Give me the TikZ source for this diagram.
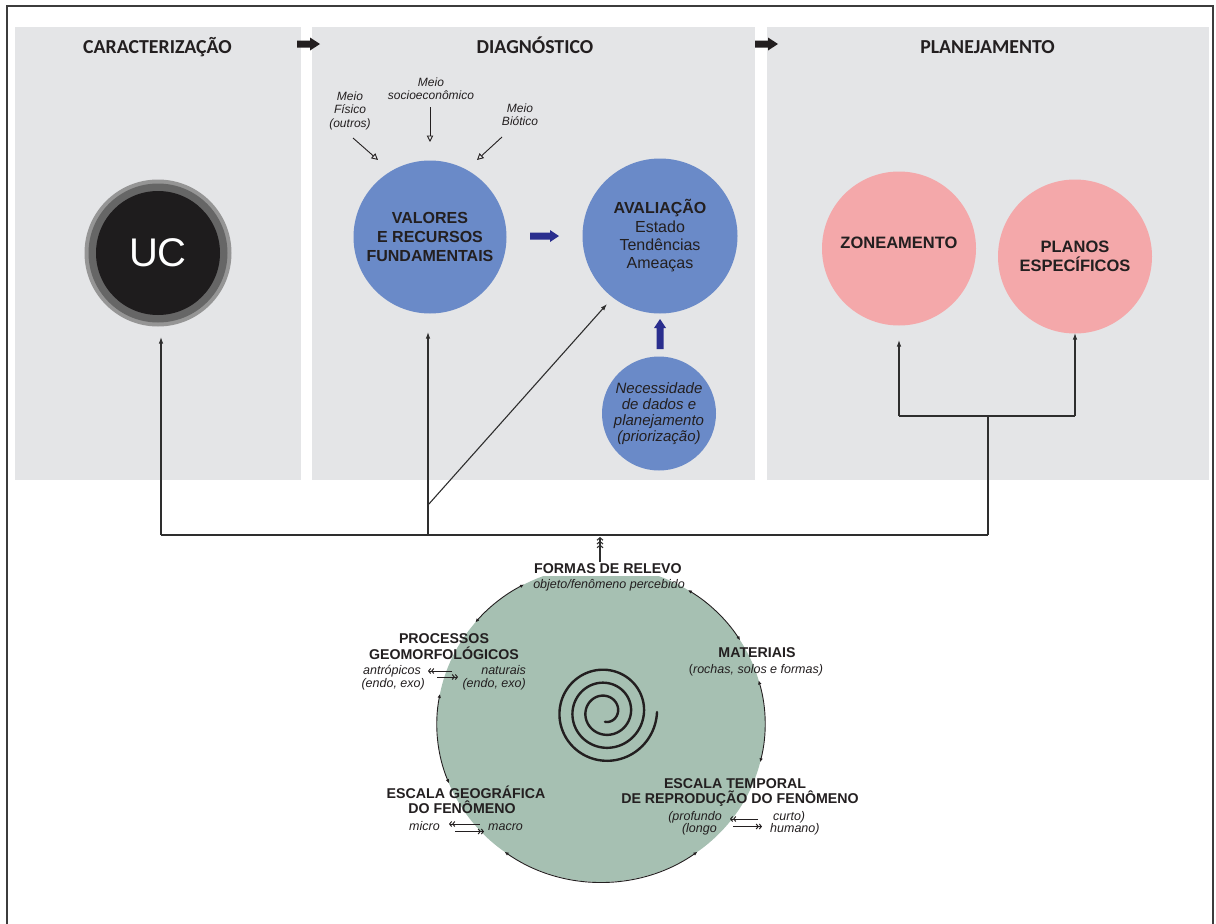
\documentclass[tikz,border=0pt]{standalone}
\usepackage{fontspec}
\setmainfont{Liberation Sans}
\newfontfamily\headfont{Carlito}
\usetikzlibrary{arrows.meta,shapes.geometric,calc}

\definecolor{panelgrey}{HTML}{E4E5E7}
\definecolor{valblue}{HTML}{6A8AC8}
\definecolor{navy}{HTML}{2A2E8E}
\definecolor{rosepink}{HTML}{F4A8AA}
\definecolor{sage}{HTML}{A6C0B2}
\definecolor{ink}{HTML}{231F20}
\definecolor{linegrey}{HTML}{2E2E2E}
\definecolor{framegrey}{HTML}{3C3C3C}
\definecolor{ringlight}{HTML}{959595}
\definecolor{ringmid}{HTML}{666666}
\definecolor{ucblack}{HTML}{1E1C1D}

\tikzset{
  panel/.style={fill=panelgrey, draw=none, inner sep=0pt, anchor=north west},
  head/.style={font=\headfont\bfseries\fontsize{19.8}{22}\selectfont, text=ink, anchor=base, inner sep=0pt},
  bluec/.style={circle, fill=valblue, minimum size=153pt, inner sep=0pt, align=center, text=ink,
                font=\fontsize{16}{18.3}\selectfont},
  pinkc/.style={circle, fill=rosepink, minimum size=154pt, inner sep=0pt, align=center, text=ink,
                font=\bfseries\fontsize{16.5}{19}\selectfont},
  meio/.style={font=\itshape\fontsize{12}{13.5}\selectfont, text=ink, align=center, anchor=north, inner sep=0pt},
  btl/.style={font=\bfseries\fontsize{14.2}{16}\selectfont, text=ink, anchor=base, inner sep=0pt},
  itl/.style={font=\itshape\fontsize{12.5}{14}\selectfont, text=ink, anchor=base, inner sep=0pt},
  conn/.style={draw=linegrey, line width=1.1pt},
  tipped/.style={-{Latex[length=6.5pt,width=4.5pt]}},
  openarr/.style={draw=ink, line width=0.9pt, -{Triangle[open,length=6.5pt,width=6.5pt]}},
  dbl/.style={draw=ink, line width=1pt, -{Straight Barb[length=2pt,width=5pt] Straight Barb[length=2pt,width=5pt]}},
  cyc/.style={draw=ink, line width=0.9pt, {Latex[length=4pt,width=3.5pt]}-{Latex[length=4pt,width=3.5pt]}},
  wheelarc/.style={x radius=164pt, y radius=158pt},
}

\begin{document}
\begin{tikzpicture}[x=1pt,y=-1pt]
\useasboundingbox (0,0) rectangle (1216,924);

% outer frame
\draw[framegrey, line width=1.3pt] (7,940) -- (7,6) -- (1213,6) -- (1213,940);

% the three stages
\node[panel, minimum width=286pt, minimum height=453pt] (car) at (15,27) {};
\node[panel, minimum width=443pt, minimum height=453pt] (dia) at (312,27) {};
\node[panel, minimum width=442pt, minimum height=453pt] (pla) at (767,27) {};

\node[head] (hcar) at (157.5,53) {CARACTERIZAÇÃO};
\node[head] (hdia) at (535,53) {DIAGNÓSTICO};
\node[head] (hpla) at (987.5,53) {PLANEJAMENTO};

% block arrows between stages
\coordinate (stepA) at (297,44);
\coordinate (stepB) at (755,44);
\foreach \s in {stepA,stepB}
  \fill[ink] (\s) ++(0,-3.5) -- ++(13,0) -- ++(0,-3) -- ++(10,6.5) -- ++(-10,6.5) -- ++(0,-3) -- ++(-13,0) -- cycle;

% UC
\node[circle, fill=ringlight, minimum size=147pt, inner sep=0pt] (ucouter) at (158,253) {};
\node[circle, fill=ringmid, minimum size=139pt, inner sep=0pt] (ucmid) at (158,253) {};
\node[circle, fill=ucblack, minimum size=124pt, inner sep=0pt, text=white,
      font=\fontsize{40}{44}\selectfont] (uc) at (158,253) {UC};

% diagnosis
\node[bluec, font=\bfseries\fontsize{16}{18.6}\selectfont] (val) at (430,237) {VALORES\\E RECURSOS\\FUNDAMENTAIS};
\node[bluec, minimum size=155pt] (ava) at (660,236) {\textbf{AVALIAÇÃO}\\Estado\\Tendências\\Ameaças};
\node[bluec, minimum size=114pt, font=\itshape\fontsize{15}{16}\selectfont] (nec) at (659,413.5)
     {Necessidade\\de dados e\\planejamento\\(priorização)};

\node[meio] (mfis) at (350,91.4) {Meio\\Físico\\(outros)};
\node[meio] (msoc) at (431,77.4) {Meio\\socioeconômico};
\node[meio] (mbio) at (520,103.4) {Meio\\Biótico};

\coordinate (mfisS) at (353,138); \coordinate (mfisT) at (378,160);
\coordinate (msocS) at (430,107); \coordinate (msocT) at (430,142);
\coordinate (mbioS) at (502,137); \coordinate (mbioT) at (477,160);
\draw[openarr] (mfisS) -- (mfisT);
\draw[openarr] (msocS) -- (msocT);
\draw[openarr] (mbioS) -- (mbioT);

% thick blue arrows
\coordinate (valava) at (530,236);
\fill[navy] (valava) ++(0,-3.5) -- ++(20,0) -- ++(0,-2.5) -- ++(9,6) -- ++(-9,6) -- ++(0,-2.5) -- ++(-20,0) -- cycle;
\coordinate (necava) at (660,349);
\fill[navy] (necava) ++(-3.5,0) -- ++(0,-21) -- ++(-2.5,0) -- ++(6,-9) -- ++(6,9) -- ++(-2.5,0) -- ++(0,21) -- cycle;

% planning
\node[pinkc] (zon) at (899,248.5) {\raisebox{6pt}[12pt][0pt]{ZONEAMENTO}};
\node[pinkc] (pln) at (1075,256.5) {PLANOS\\ESPECÍFICOS};

% geomorphology wheel
\node[ellipse, fill=sage, minimum width=328pt, minimum height=316pt, inner sep=0pt] (gc) at (601,724) {};

\draw[ink, line width=2.4pt, line cap=round]
  plot[domain=270:1440, samples=420, smooth] ({605+0.036111*\x*cos(\x)}, {712-0.036111*\x*sin(\x)});

\draw[cyc] ($(gc.center)+(140:164pt and 158pt)$) arc[start angle=140, end angle=118, wheelarc];
\draw[cyc] ($(gc.center)+(58:164pt and 158pt)$) arc[start angle=58, end angle=32, wheelarc];
\draw[cyc] ($(gc.center)+(16:164pt and 158pt)$) arc[start angle=16, end angle=-14, wheelarc];
\draw[cyc] ($(gc.center)+(-54:164pt and 158pt)$) arc[start angle=-54, end angle=-126, wheelarc];
\draw[cyc] ($(gc.center)+(202:164pt and 158pt)$) arc[start angle=202, end angle=169, wheelarc];

\node[btl, fill=white, inner sep=1pt, text depth=2pt] (formas) at (608,573) {FORMAS DE RELEVO};
\node[itl] (formasb) at (609,588) {objeto/fenômeno percebido};

\node[btl] (proca) at (444,643) {PROCESSOS};
\node[btl] (procb) at (444,659) {GEOMORFOLÓGICOS};
\node[itl, anchor=base east] (antr) at (421,674) {antrópicos};
\node[itl, anchor=base east] (endoa) at (425,687) {(endo, exo)};
\node[itl, anchor=base east] (natu) at (526,674) {naturais};
\node[itl, anchor=base east] (endob) at (526,687) {(endo, exo)};
\coordinate (pA1) at (452,671); \coordinate (pA2) at (428,671);
\coordinate (pB1) at (437,677); \coordinate (pB2) at (458,677);
\draw[dbl] (pA1) -- (pA2);
\draw[dbl] (pB1) -- (pB2);

\node[btl] (mata) at (757,657) {MATERIAIS};
\node[itl] (matb) at (756,673) {{\upshape(}rochas, solos e formas)};

\node[btl] (geoa) at (466,798) {ESCALA GEOGRÁFICA};
\node[btl] (geob) at (462,813) {DO FENÔMENO};
\node[itl, anchor=base east] (micro) at (440,830) {micro};
\node[itl, anchor=base west] (macro) at (488,830) {macro};
\coordinate (gA1) at (480,824); \coordinate (gA2) at (449,824);
\coordinate (gB1) at (455,831.5); \coordinate (gB2) at (484,831.5);
\draw[dbl] (gA1) -- (gA2);
\draw[dbl] (gB1) -- (gB2);

\node[btl] (tmpa) at (735,788) {ESCALA TEMPORAL};
\node[btl] (tmpb) at (740,803) {DE REPRODUÇÃO DO FENÔMENO};
\node[itl, anchor=base east] (prof) at (722,820) {(profundo};
\node[itl, anchor=base east] (longo) at (717,832) {(longo};
\node[itl, anchor=base west] (curto) at (773,820) {curto)};
\node[itl, anchor=base west] (human) at (770,832) {humano)};
\coordinate (tA1) at (758,819); \coordinate (tA2) at (730,819);
\coordinate (tB1) at (733,826.5); \coordinate (tB2) at (762,826.5);
\draw[dbl] (tA1) -- (tA2);
\draw[dbl] (tB1) -- (tB2);

% connectors
\coordinate (jUC) at (161,535);
\coordinate (jVal) at (428,535);
\coordinate (jDiag) at (428,505);
\coordinate (jPla) at (988,535);
\coordinate (tipUC) at (161,337);
\coordinate (tipVal) at (428,332);
\coordinate (tipAva) at (607,304);
\coordinate (brk) at (988,416);
\coordinate (brkZ) at (899,416);
\coordinate (brkP) at (1075,416);
\coordinate (tipZon) at (899,340);
\coordinate (tipPln) at (1075,333);
\coordinate (stemTop) at (600,537);
\coordinate (stemBot) at (600,562);

\draw[conn] (jUC) -- (jPla);
\draw[conn, tipped] (jUC) -- (tipUC);
\draw[conn, tipped] (jVal) -- (tipVal);
\draw[conn, tipped] (jDiag) -- (tipAva);
\draw[conn] (jPla) -- (brk);
\draw[conn] (brkZ) -- (brkP);
\draw[conn, tipped] (brkZ) -- (tipZon);
\draw[conn, tipped] (brkP) -- (tipPln);
\draw[conn, -{Straight Barb[length=2.5pt,width=6pt] Straight Barb[length=2.5pt,width=6pt] Straight Barb[length=2.5pt,width=6pt]}]
  (stemBot) -- (stemTop);
\end{tikzpicture}
\end{document}
